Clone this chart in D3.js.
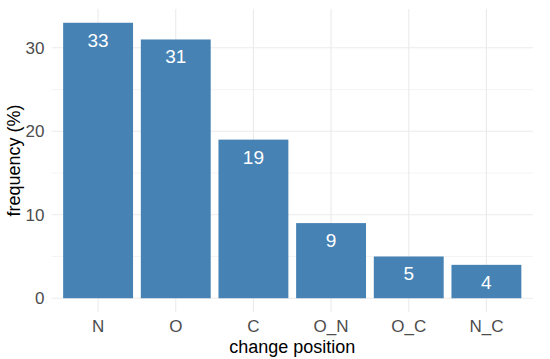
<!DOCTYPE html>
<html>
<head>
<meta charset="utf-8">
<script src="https://cdn.jsdelivr.net/npm/d3@7"></script>
<style>
  body { margin: 0; background: #fff; }
  text { font-family: "Liberation Sans", Arial, sans-serif; }
</style>
</head>
<body>
<div id="chart"></div>
<script>
const categories = ["N", "O", "C", "O_N", "O_C", "N_C"];
const values = [33, 31, 19, 9, 5, 4];
const yTicks = [0, 10, 20, 30];
const yMinor = [5, 15, 25];

const width = 550, height = 359;
const margin = { top: 9, right: 17, bottom: 47, left: 51.5 };
const innerW = width - margin.left - margin.right;
const innerH = height - margin.top - margin.bottom;

const svg = d3.select("#chart").append("svg")
  .attr("width", width)
  .attr("height", height);

const g = svg.append("g")
  .attr("transform", `translate(${margin.left},${margin.top})`);

// discrete axis, ggplot-style expansion of 0.6 units each side
const step = innerW / (categories.length + 0.2);
const x = d3.scaleBand()
  .domain(categories)
  .range([step * 0.1, innerW - step * 0.1])
  .paddingInner(0.1)
  .paddingOuter(0.05);

const yMax = d3.max(values);
const y = d3.scaleLinear()
  .domain([-yMax * 0.05, yMax * 1.05])
  .range([innerH, 0]);

const gridColor = "#ebebeb";

g.append("g").selectAll("line.minor")
  .data(yMinor)
  .join("line")
  .attr("x1", 0).attr("x2", innerW)
  .attr("y1", d => y(d)).attr("y2", d => y(d))
  .attr("stroke", gridColor).attr("stroke-width", 0.55);

g.append("g").selectAll("line.major")
  .data(yTicks)
  .join("line")
  .attr("x1", 0).attr("x2", innerW)
  .attr("y1", d => y(d)).attr("y2", d => y(d))
  .attr("stroke", gridColor).attr("stroke-width", 1.1);

g.append("g").selectAll("line.vgrid")
  .data(categories)
  .join("line")
  .attr("x1", d => x(d) + x.bandwidth() / 2)
  .attr("x2", d => x(d) + x.bandwidth() / 2)
  .attr("y1", 0).attr("y2", innerH)
  .attr("stroke", gridColor).attr("stroke-width", 1.1);

g.append("g").selectAll("rect")
  .data(categories)
  .join("rect")
  .attr("x", d => x(d))
  .attr("width", x.bandwidth())
  .attr("y", (d, i) => y(values[i]))
  .attr("height", (d, i) => y(0) - y(values[i]))
  .attr("fill", "steelblue");

g.append("g").selectAll("text")
  .data(categories)
  .join("text")
  .attr("x", d => x(d) + x.bandwidth() / 2)
  .attr("y", (d, i) => y(values[i]) + 24)
  .attr("text-anchor", "middle")
  .attr("fill", "#fff")
  .attr("font-size", 19)
  .text((d, i) => values[i]);

// y axis labels
const yAxis = g.append("g")
  .call(d3.axisLeft(y).tickValues(yTicks).tickSize(0).tickPadding(7));
yAxis.select(".domain").remove();
yAxis.selectAll("text")
  .attr("font-size", 17)
  .attr("fill", "#4d4d4d")
  .attr("font-family", "Liberation Sans, Arial, sans-serif");

// x axis labels
const xAxis = g.append("g")
  .attr("transform", `translate(0,${innerH})`)
  .call(d3.axisBottom(x).tickSize(0).tickPadding(8));
xAxis.select(".domain").remove();
xAxis.selectAll("text")
  .attr("font-size", 17)
  .attr("fill", "#4d4d4d")
  .attr("font-family", "Liberation Sans, Arial, sans-serif");

svg.append("text")
  .attr("x", margin.left + innerW / 2)
  .attr("y", 353)
  .attr("text-anchor", "middle")
  .attr("font-size", 18)
  .attr("fill", "#000")
  .text("change position");

svg.append("text")
  .attr("transform", `translate(20,${margin.top + y(yMax / 2)}) rotate(-90)`)
  .attr("text-anchor", "middle")
  .attr("font-size", 18)
  .attr("fill", "#000")
  .text("frequency (%)");
</script>
</body>
</html>
